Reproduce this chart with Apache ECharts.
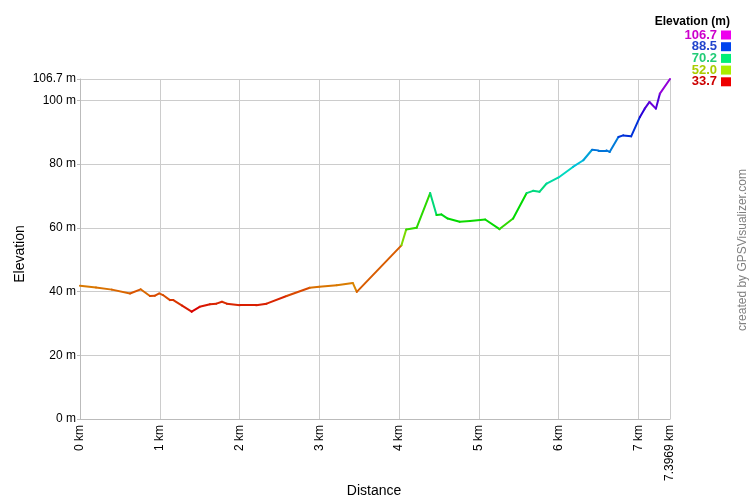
<!DOCTYPE html>
<html>
<head>
<meta charset="utf-8">
<script src="https://cdn.jsdelivr.net/npm/echarts@6/dist/echarts.min.js"></script>
<style>html,body{margin:0;padding:0;background:#fff;}#c{width:750px;height:500px;}</style>
</head>
<body>
<div id="c"></div>
<script>
// Distance along track (km)
var distances = [0, 0.2, 0.4, 0.627, 0.76, 0.877, 0.94, 0.994, 1.04, 1.128, 1.17, 1.28, 1.40, 1.50, 1.63, 1.71, 1.78, 1.84, 2.005, 2.21, 2.34, 2.59, 2.88, 3.0, 3.22, 3.42, 3.47, 4.03, 4.09, 4.22, 4.39, 4.47, 4.53, 4.61, 4.76, 4.89, 5.08, 5.26, 5.43, 5.60, 5.68, 5.76, 5.85, 6.0, 6.18, 6.31, 6.42, 6.50, 6.60, 6.64, 6.75, 6.81, 6.91, 7.02, 7.08, 7.14, 7.22, 7.27, 7.3969];
// Elevation (m)
var elevations = [41.8, 41.3, 40.6, 39.4, 40.7, 38.6, 38.7, 39.4, 38.9, 37.3, 37.3, 35.6, 33.7, 35.2, 36.0, 36.2, 36.8, 36.2, 35.7, 35.7, 36.2, 38.6, 41.2, 41.5, 42.0, 42.7, 39.9, 54.5, 59.5, 60.0, 70.9, 64.0, 64.2, 62.9, 61.9, 62.1, 62.6, 59.6, 62.9, 70.9, 71.6, 71.3, 73.9, 75.8, 79.1, 81.2, 84.5, 84.3, 84.3, 83.8, 88.5, 89.0, 88.7, 94.8, 97.4, 99.5, 97.4, 102.1, 106.7];
// Legend (top to bottom)
var legendValues = ['106.7', '88.5', '70.2', '52.0', '33.7'];
var legendTextColors = ['#cc00cc', '#2244cc', '#22cc77', '#aacc00', '#cc0000'];
var legendSwatchColors = ['#ee00ee', '#0044ee', '#00ee77', '#aaee00', '#ee0000'];
var elevMin = 33.7, elevMax = 106.7;
var distMax = 7.3969;

var FONT = "'Liberation Sans', Arial, sans-serif";

// Segment colour: hue sweep red -> magenta (0..300 deg) by the segment's starting elevation
function hsvHex(h, s, v) {
  var c = v * s, hp = h / 60, x = c * (1 - Math.abs(hp % 2 - 1)), r = 0, g = 0, b = 0;
  if (hp < 1) { r = c; g = x; } else if (hp < 2) { r = x; g = c; } else if (hp < 3) { g = c; b = x; }
  else if (hp < 4) { g = x; b = c; } else if (hp < 5) { r = x; b = c; } else { r = c; b = x; }
  var m = v - c;
  function h2(n) { var s2 = Math.round((n + m) * 255).toString(16); return s2.length < 2 ? '0' + s2 : s2; }
  return '#' + h2(r) + h2(g) + h2(b);
}
function elevColor(e) {
  var t = Math.max(0, Math.min(1, (e - elevMin) / (elevMax - elevMin)));
  return hsvHex(t * 300, 1, 0.85);
}

var chart = echarts.init(document.getElementById('c'));
var segments = [];
for (var i = 0; i < distances.length - 1; i++) {
  segments.push({
    coords: [[distances[i], elevations[i]], [distances[i + 1], elevations[i + 1]]],
    lineStyle: { color: elevColor(elevations[i]) }
  });
}

var graphics = [
  { type: 'text', x: 730, y: 28, style: { text: 'Elevation (m)', font: 'bold 12px ' + FONT, fill: '#000', align: 'right', verticalAlign: 'bottom' } },
  { type: 'text', x: 20, y: 254, rotation: Math.PI / 2, style: { text: 'Elevation', font: '14px ' + FONT, fill: '#000', align: 'center', verticalAlign: 'middle' } },
  { type: 'text', x: 374, y: 491, style: { text: 'Distance', font: '14px ' + FONT, fill: '#000', align: 'center', verticalAlign: 'middle' } },
  { type: 'text', x: 743, y: 250, rotation: Math.PI / 2, style: { text: 'created by GPSVisualizer.com', font: '12px ' + FONT, fill: '#808080', align: 'center', verticalAlign: 'middle' } }
];
legendValues.forEach(function (v, i) {
  graphics.push({ type: 'text', x: 717, y: 35 + i * 11.7, style: { text: v, font: 'bold 13px ' + FONT, fill: legendTextColors[i], align: 'right', verticalAlign: 'middle' } });
  graphics.push({ type: 'rect', shape: { x: 721, y: 30.5 + i * 11.7, width: 10, height: 9 }, style: { fill: legendSwatchColors[i] } });
});

chart.setOption({
  animation: false,
  backgroundColor: '#fff',
  grid: { left: 80, right: 80, top: 79, bottom: 81, containLabel: false, outerBoundsMode: 'none' },
  xAxis: {
    type: 'value', min: 0, max: distMax, interval: 1,
    axisLine: { show: true, lineStyle: { color: '#bbb' } },
    axisTick: { show: false },
    axisLabel: { rotate: 90, margin: 6, fontFamily: FONT, fontSize: 12, color: '#000',
      formatter: function (v) { return v + ' km'; } },
    splitLine: { show: true, lineStyle: { color: '#ccc', width: 1 } }
  },
  yAxis: {
    type: 'value', min: 0, max: elevMax, interval: 20,
    axisLine: { show: true, lineStyle: { color: '#bbb' } },
    axisTick: { show: true, length: 3, lineStyle: { color: '#bbb' } },
    axisLabel: { margin: 4, fontFamily: FONT, fontSize: 12, color: '#000',
      formatter: function (v) { return v + ' m'; } },
    splitLine: { show: true, lineStyle: { color: '#ccc', width: 1 } }
  },
  series: [{
    type: 'lines', coordinateSystem: 'cartesian2d', polyline: false,
    data: segments, silent: true,
    lineStyle: { width: 2, opacity: 1, cap: 'round', join: 'round' }
  }],
  graphic: graphics
});
</script>
</body>
</html>
